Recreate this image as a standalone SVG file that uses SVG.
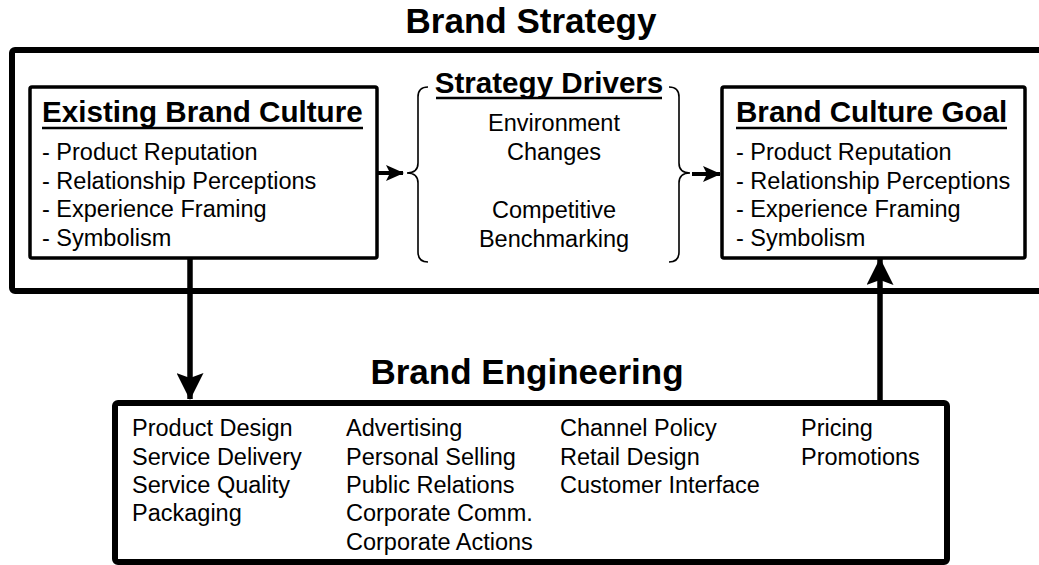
<svg xmlns="http://www.w3.org/2000/svg" width="1039" height="565" viewBox="0 0 1039 565">
<style>
text{font-family:"Liberation Sans",Arial,Helvetica,sans-serif;fill:#000}
.big{font-size:35px;font-weight:bold}
.hd{font-size:29.6px;font-weight:bold}
.it{font-size:23.5px}
.mid{text-anchor:middle}
.box{fill:#fff;stroke:#000;stroke-width:3.5}
.frame{fill:none;stroke:#000;stroke-width:6}
.ul{stroke:#000;stroke-width:2.6}
.brace{fill:none;stroke:#000;stroke-width:1.6}
.shaft{stroke:#000;fill:none}
</style>
<defs>
<marker id="ahS" viewBox="0 0 18 16" refX="17" refY="8" markerWidth="18" markerHeight="16" markerUnits="userSpaceOnUse" orient="auto">
<path d="M0,0 L18,8 L0,16 L4,8 Z" fill="#000"/>
</marker>
<marker id="ahL" viewBox="0 0 27 27" refX="26" refY="13.5" markerWidth="27" markerHeight="27" markerUnits="userSpaceOnUse" orient="auto">
<path d="M0,0 L27,13.5 L0,27 L5,13.5 Z" fill="#000"/>
</marker>
</defs>
<rect width="1039" height="565" fill="#fff"/>

<g id="strategy">
<text class="big mid" x="531" y="33">Brand Strategy</text>
<rect class="frame" x="12" y="50" width="1040" height="241" rx="3"/>
</g>

<g id="existing">
<rect class="box" x="30" y="87" width="347" height="171" rx="2"/>
<text class="hd" x="42" y="122">Existing Brand Culture</text>
<line class="ul" x1="42" y1="128" x2="363" y2="128"/>
<text class="it" x="42" y="160">-  Product Reputation</text>
<text class="it" x="42" y="188.5">- Relationship Perceptions</text>
<text class="it" x="42" y="217">- Experience Framing</text>
<text class="it" x="42" y="245.5">- Symbolism</text>
</g>

<g id="drivers">
<path class="brace" d="M428,87 Q418,87 418,97 L418,163 Q418,173 407,173 Q418,173 418,183 L418,252 Q418,262 428,262"/>
<path class="brace" d="M669,87 Q679,87 679,97 L679,163 Q679,173 690,173 Q679,173 679,183 L679,252 Q679,262 669,262"/>
<text class="hd mid" x="549" y="93">Strategy Drivers</text>
<line class="ul" x1="436" y1="98" x2="662" y2="98"/>
<text class="it mid" x="554" y="131">Environment</text>
<text class="it mid" x="554" y="160">Changes</text>
<text class="it mid" x="554" y="218">Competitive</text>
<text class="it mid" x="554" y="247">Benchmarking</text>
</g>

<g id="goal">
<rect class="box" x="722" y="87" width="303" height="171" rx="2"/>
<text class="hd" x="736" y="122">Brand Culture Goal</text>
<line class="ul" x1="736" y1="128" x2="1007" y2="128"/>
<text class="it" x="736" y="160">-  Product Reputation</text>
<text class="it" x="736" y="188.5">- Relationship Perceptions</text>
<text class="it" x="736" y="217">- Experience Framing</text>
<text class="it" x="736" y="245.5">- Symbolism</text>
</g>

<g id="engineering">
<text class="big mid" x="527" y="384">Brand Engineering</text>
<rect class="frame" x="115" y="403" width="832" height="159" rx="3"/>
<text class="it" x="132" y="436">Product Design</text>
<text class="it" x="132" y="464.5">Service Delivery</text>
<text class="it" x="132" y="493">Service Quality</text>
<text class="it" x="132" y="521">Packaging</text>
<text class="it" x="346" y="436">Advertising</text>
<text class="it" x="346" y="464.5">Personal Selling</text>
<text class="it" x="346" y="493">Public Relations</text>
<text class="it" x="346" y="521">Corporate Comm.</text>
<text class="it" x="346" y="549.5">Corporate Actions</text>
<text class="it" x="560" y="436">Channel Policy</text>
<text class="it" x="560" y="464.5">Retail Design</text>
<text class="it" x="560" y="493">Customer Interface</text>
<text class="it" x="801" y="436">Pricing</text>
<text class="it" x="801" y="464.5">Promotions</text>
</g>

<g id="connectors">
<line class="shaft" x1="377" y1="173" x2="403" y2="173" stroke-width="4" marker-end="url(#ahS)"/>
<line class="shaft" x1="692" y1="174" x2="720" y2="174" stroke-width="4" marker-end="url(#ahS)"/>
<line class="shaft" x1="190" y1="258" x2="190" y2="399" stroke-width="5.5" marker-end="url(#ahL)"/>
<line class="shaft" x1="880" y1="401" x2="880" y2="259" stroke-width="5.5" marker-end="url(#ahL)"/>
</g>
</svg>
